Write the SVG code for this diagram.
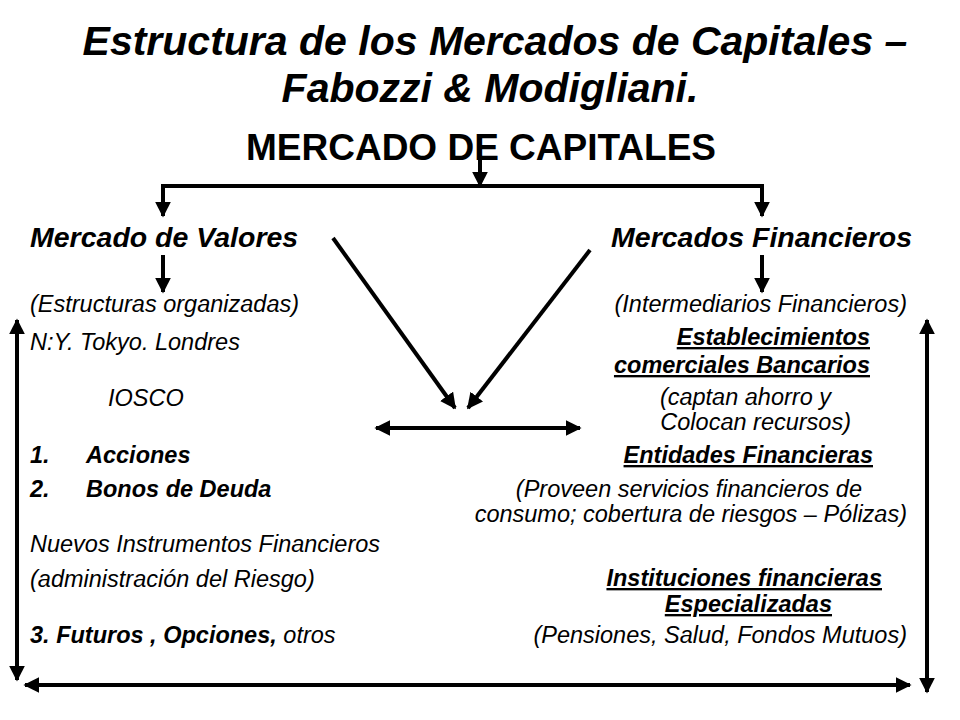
<svg xmlns="http://www.w3.org/2000/svg" width="960" height="720" viewBox="0 0 960 720">
<style>
text{font-family:"Liberation Sans",Arial,sans-serif;fill:#000}
.t{font-size:23.5px;font-style:italic}
.b{font-weight:bold}
.u{text-decoration:underline}
.r{text-anchor:end}
.c{text-anchor:middle}
.ln{stroke:#000;stroke-width:4;fill:none}
</style>
<defs>
<marker id="ah" viewBox="0 0 10 10" refX="9" refY="5" markerWidth="4" markerHeight="4" orient="auto-start-reverse" markerUnits="strokeWidth"><path d="M0,0L10,5L0,10z" fill="#000"/></marker>
</defs>
<rect width="960" height="720" fill="#fff"/>
<g id="title">
<text x="495" y="55" class="c b" font-style="italic" font-size="41">Estructura de los Mercados de Capitales –</text>
<text x="490" y="102" class="c b" font-style="italic" font-size="41">Fabozzi &amp; Modigliani.</text>
</g>
<g id="root"><text x="481" y="160" class="c b" font-size="37">MERCADO DE CAPITALES</text></g>
<g id="connectors">
<line class="ln" x1="480" y1="158" x2="480" y2="186" marker-end="url(#ah)"/>
<polyline class="ln" points="163,215 163,186 762,186 762,215"/>
<line class="ln" x1="163" y1="200" x2="163" y2="216" marker-end="url(#ah)"/>
<line class="ln" x1="762" y1="200" x2="762" y2="216" marker-end="url(#ah)"/>
<line class="ln" x1="163" y1="255" x2="163" y2="292" marker-end="url(#ah)"/>
<line class="ln" x1="762" y1="255" x2="762" y2="292" marker-end="url(#ah)"/>
<line class="ln" x1="333" y1="238" x2="455" y2="408" marker-end="url(#ah)"/>
<line class="ln" x1="590" y1="250" x2="468" y2="408" marker-end="url(#ah)"/>
<line class="ln" x1="376" y1="428" x2="580" y2="428" marker-start="url(#ah)" marker-end="url(#ah)"/>
<line class="ln" x1="17" y1="320" x2="17" y2="680" marker-start="url(#ah)" marker-end="url(#ah)"/>
<line class="ln" x1="927" y1="320" x2="927" y2="692" marker-start="url(#ah)" marker-end="url(#ah)"/>
<line class="ln" x1="25" y1="685" x2="910" y2="685" marker-start="url(#ah)" marker-end="url(#ah)"/>
</g>
<g id="valores">
<text x="30" y="247" class="b" font-style="italic" font-size="28.5">Mercado de Valores</text>
<text x="30" y="312" class="t">(Estructuras organizadas)</text>
<text x="30" y="350" class="t">N:Y. Tokyo. Londres</text>
<text x="108" y="406" class="t">IOSCO</text>
<text x="30" y="463" class="t b">1.</text><text x="86" y="463" class="t b">Acciones</text>
<text x="30" y="497" class="t b">2.</text><text x="86" y="497" class="t b">Bonos de Deuda</text>
<text x="30" y="552" class="t">Nuevos Instrumentos Financieros</text>
<text x="30" y="587" class="t">(administración del Riesgo)</text>
<text x="30" y="643" class="t"><tspan class="b">3. Futuros , Opciones,</tspan> otros</text>
</g>
<g id="financieros">
<text x="912" y="247" class="b r" font-style="italic" font-size="28.5">Mercados Financieros</text>
<text x="907" y="312" class="t r">(Intermediarios Financieros)</text>
<text x="870" y="345" class="t b u r">Establecimientos </text>
<text x="870" y="373" class="t b u r">comerciales Bancarios</text>
<text x="831" y="405" class="t r">(captan ahorro y</text>
<text x="851" y="430" class="t r">Colocan recursos)</text>
<text x="873" y="463" class="t b u r">Entidades Financieras</text>
<text x="862" y="497" class="t r">(Proveen servicios financieros de</text>
<text x="907" y="522" class="t r">consumo; cobertura de riesgos – Pólizas)</text>
<text x="882" y="586" class="t b u r">Instituciones financieras</text>
<text x="832" y="612" class="t b u r">Especializadas</text>
<text x="907" y="643" class="t r">(Pensiones, Salud, Fondos Mutuos)</text>
</g>
</svg>
